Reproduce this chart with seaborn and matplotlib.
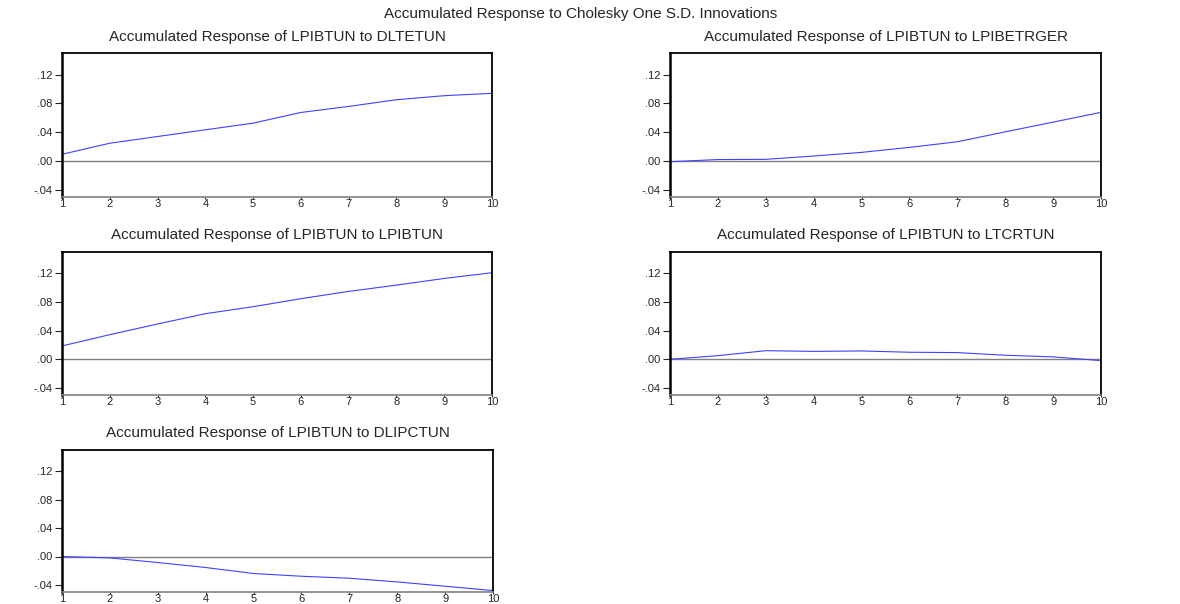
import numpy as np
import pandas as pd
import seaborn as sns
import matplotlib.pyplot as plt
from matplotlib.ticker import FuncFormatter

# Accumulated responses of LPIBTUN, periods 1..10
periods = list(range(1, 11))
dltetun = [0.0093, 0.0247, 0.0340, 0.0433, 0.0526, 0.0674, 0.0758, 0.0851, 0.0907, 0.0940]
lpibetrger = [-0.0010, 0.0020, 0.0023, 0.0069, 0.0120, 0.0189, 0.0267, 0.0405, 0.0540, 0.0676]
lpibtun = [0.0186, 0.0344, 0.0493, 0.0637, 0.0735, 0.0847, 0.0949, 0.1037, 0.1130, 0.1210]
ltcrtun = [0.0000, 0.0050, 0.0120, 0.0110, 0.0116, 0.0098, 0.0093, 0.0056, 0.0033, -0.0019]
dlipctun = [0.0000, -0.0020, -0.0085, -0.0155, -0.0240, -0.0278, -0.0306, -0.0358, -0.0419, -0.0480]

shocks = ['DLTETUN', 'LPIBETRGER', 'LPIBTUN', 'LTCRTUN', 'DLIPCTUN']
y_ticks = [-0.04, 0.00, 0.04, 0.08, 0.12]

df = pd.DataFrame({'period': periods, 'DLTETUN': dltetun, 'LPIBETRGER': lpibetrger,
                   'LPIBTUN': lpibtun, 'LTCRTUN': ltcrtun, 'DLIPCTUN': dlipctun})

sns.set_style('white')
plt.rcParams['font.family'] = ['Liberation Sans', 'DejaVu Sans']

W, H = 1180, 604
fig = plt.figure(figsize=(W / 100, H / 100), dpi=100)

# axes boxes in pixels: left, top, right, bottom
boxes = [(62, 53, 492, 197), (670, 53, 1101, 197),
         (62, 252, 492, 395), (670, 252, 1101, 395),
         (62, 450, 493, 592)]


def fmt(v, pos):
    s = f'{v:.2f}'
    return s.replace('0.', '.')


for shock, (l, t, r, b) in zip(shocks, boxes):
    ax = fig.add_axes([l / W, 1 - b / H, (r - l) / W, (b - t) / H])
    ax.axhline(0, color='#808080', linewidth=1.0)
    sns.lineplot(x='period', y=shock, data=df, ax=ax, color='#4040ff', linewidth=0.8)
    ax.set_xlim(1, 10)
    ax.set_ylim(-0.05, 0.15)
    ax.set_xticks(periods)
    ax.set_yticks(y_ticks)
    ax.yaxis.set_major_formatter(FuncFormatter(fmt))
    ax.set_xlabel('')
    ax.set_ylabel('')
    ax.tick_params(axis='y', direction='out', length=5, width=0.8, pad=2, labelsize=8, left=True)
    ax.tick_params(axis='x', direction='out', length=1.5, width=0.8, pad=0, labelsize=8, bottom=True)
    for side in ['left', 'top', 'right']:
        ax.spines[side].set_color('black')
        ax.spines[side].set_linewidth(1.3)
    ax.spines['left'].set_linewidth(1.8)
    ax.spines['bottom'].set_color('#808080')
    ax.spines['bottom'].set_linewidth(1.2)
    ax.set_title(f'Accumulated Response of LPIBTUN to {shock}', fontsize=11, pad=9)

fig.text(581 / W, 1 - 14 / H, 'Accumulated Response to Cholesky One S.D. Innovations',
         ha='center', va='center', fontsize=11)

fig.savefig('out.png', dpi=100)
